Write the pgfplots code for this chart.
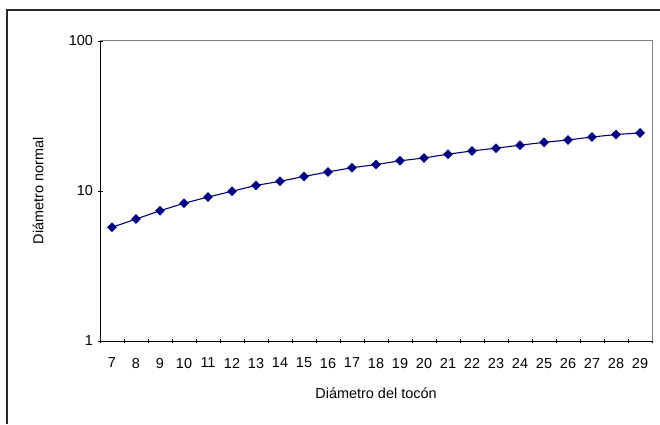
\documentclass[border=0pt]{standalone}
\usepackage{pgfplots}
\pgfplotsset{compat=1.18}
\usepackage{fontspec}
\setmainfont{Liberation Sans}
\definecolor{navy}{HTML}{000080}
\pgfplotstableread{
x y
7 5.73
8 6.5
9 7.39
10 8.28
11 9.12
12 9.95
13 10.9
14 11.6
15 12.5
16 13.4
17 14.3
18 15.0
19 15.9
20 16.6
21 17.6
22 18.5
23 19.3
24 20.2
25 21.1
26 21.9
27 22.9
28 23.8
29 24.4
}\datatable
\begin{document}
\begin{tikzpicture}[x=1bp,y=1bp]
\path[use as bounding box] (0,0) rectangle (660,424);
\draw[line width=1.2bp, black!85] (7,0) -- (7,414) -- (660,414);
\begin{axis}[
  at={(100bp,83bp)}, anchor=south west,
  width=552bp, height=300bp, scale only axis,
  ymode=log, ymin=1, ymax=100,
  ytick={1,10,100}, yticklabels={1,10,100},
  yminorticks=false,
  xmin=6.5, xmax=29.5,
  xtick={7,...,29},
  xticklabels={7,8,9,10,11,12,13,14,15,16,17,18,19,20,21,22,23,24,25,26,27,28,29},
  minor xtick={6.5,7.5,...,29.5},
  major x tick style={draw=none},
  tick align=outside,
  major tick length=5bp, minor tick length=5bp,
  axis lines=left,
  axis line style={-, black, line width=0.9bp},
  tick style={black, line width=0.8bp},
  /pgf/number format/assume math mode=true,
  tick label style={font=\fontsize{14.5}{16}\selectfont},
  xticklabel style={yshift=-11bp},
  yticklabel style={xshift=-1bp},
  every axis y label/.style={at={(axis description cs:-0.112,0.5)}, rotate=90, anchor=center},
  every axis x label/.style={at={(axis description cs:0.5,-0.175)}, anchor=center},
  label style={font=\fontsize{14.5}{16}\selectfont},
  xlabel={Diámetro del tocón},
  ylabel={Diámetro normal},
  clip=false,
]
\draw[gray, line width=1bp] (rel axis cs:0,1) -- (rel axis cs:1,1) -- (rel axis cs:1,0);
\addplot[navy, line width=1.1bp, mark=square*, mark size=2.9bp, mark options={rotate=45, fill=navy, draw=navy}] table[x=x,y=y] {\datatable};
\end{axis}
\end{tikzpicture}
\end{document}
